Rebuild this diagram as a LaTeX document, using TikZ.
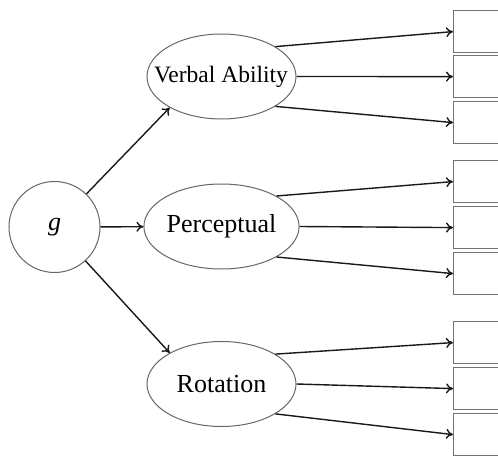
\documentclass[tikz,border=0pt]{standalone}
\usepackage{fontspec}
\setmainfont{Liberation Serif}
\usetikzlibrary{arrows.meta,shapes.geometric}
\begin{document}
\begin{tikzpicture}[x=1pt,y=-1pt,
  latent/.style={ellipse,draw=black!60,line width=1pt,minimum width=149pt,minimum height=85pt,inner sep=0pt,font=\fontsize{26}{30}\selectfont},
  gcirc/.style={circle,draw=black!60,line width=1pt,minimum size=91pt,inner sep=0pt,font=\fontsize{26}{30}\selectfont},
  obs/.style={rectangle,draw=black!55,line width=1.2pt,minimum width=70pt,minimum height=42pt,inner sep=0pt,anchor=north west},
  arr/.style={-{To[length=7pt,width=10pt]},line width=1.4pt,black!90}]
\useasboundingbox (0,0) rectangle (498,457);
\node[gcirc] (g) at (54.5,227) {\textit{g}};
\node[latent] (v) at (221.5,76.5) {};
\node[font=\fontsize{23.5}{27}\selectfont] (vt) at (221,77) {Verbal Ability};
\node[latent] (p) at (221.5,226.5) {Perceptual};
\node[latent] (r) at (221.5,384) {Rotation};
\node[obs] (b1) at (453,10) {};
\node[obs] (b2) at (453,55) {};
\node[obs] (b3) at (453,101) {};
\node[obs] (b4) at (453,160) {};
\node[obs] (b5) at (453,206) {};
\node[obs] (b6) at (453,252) {};
\node[obs] (b7) at (453,321) {};
\node[obs] (b8) at (453,367) {};
\node[obs] (b9) at (453,413) {};
\draw[arr] (g) -- (v.211);
\draw[arr] (g) -- (p);
\draw[arr] (g) -- (r.149);
\foreach \e/\a/\b/\c in {v/b1/b2/b3, p/b4/b5/b6, r/b7/b8/b9}{
  \draw[arr] (\e.29) -- (\a.west);
  \draw[arr] (\e.0) -- (\b.west);
  \draw[arr] (\e.-29) -- (\c.west);
}
\end{tikzpicture}
\end{document}
